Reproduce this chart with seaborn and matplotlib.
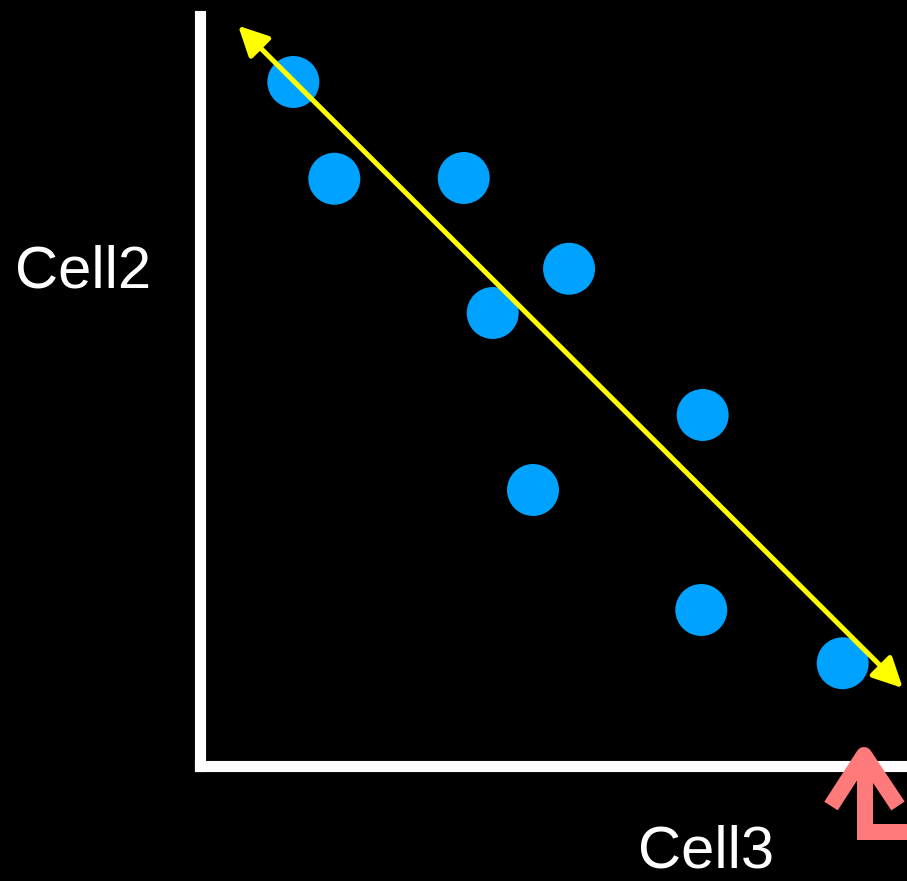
import matplotlib
matplotlib.use('Agg')
import matplotlib.pyplot as plt
import seaborn as sns
import pandas as pd
from matplotlib.lines import Line2D

# Data (arbitrary units, 0-10 on both axes)
cell3 = [1.32, 1.90, 3.73, 5.22, 4.14, 7.11, 4.71, 7.09, 9.09]
cell2 = [9.12, 7.83, 7.84, 6.63, 6.04, 4.68, 3.68, 2.08, 1.37]
trend_start = (0.54, 9.87)
trend_end = (9.94, 1.04)

df = pd.DataFrame({'Cell3': cell3, 'Cell2': cell2})

sns.set_style('dark', {'axes.facecolor': 'black', 'figure.facecolor': 'black'})
plt.rcParams['font.family'] = ['Liberation Sans', 'DejaVu Sans']

W, H = 907, 881
fig = plt.figure(figsize=(W / 100, H / 100), dpi=100)
fig.patch.set_facecolor('black')

# inner axes: the white L
left, bottom, top = 200, 766, 16
ax = fig.add_axes([left / W, (H - bottom) / H, (W - left) / W, (bottom - top) / H])
ax.set_facecolor('black')

sns.scatterplot(data=df, x='Cell3', y='Cell2', ax=ax, s=1400, color='#00A2FF',
                edgecolor='none', legend=False, zorder=2, clip_on=False)

ax.annotate('', xy=trend_end, xytext=trend_start,
            arrowprops=dict(arrowstyle='<|-|>,head_length=0.9,head_width=0.45',
                            color='#FFFF00', lw=3.6, mutation_scale=20,
                            shrinkA=0, shrinkB=0),
            annotation_clip=False, zorder=3)

ax.set_xlim(0, 10)
ax.set_ylim(0, 10)
ax.set_xticks([])
ax.set_yticks([])
ax.set_xlabel('')
ax.set_ylabel('')
ax.grid(False)
for side in ['top', 'right']:
    ax.spines[side].set_visible(False)
for side in ['left', 'bottom']:
    ax.spines[side].set_visible(True)
    ax.spines[side].set_color('white')
    ax.spines[side].set_linewidth(8)

# axis titles
fig.text(15 / W, 1 - 272 / H, 'Cell2', color='white', fontsize=43,
         ha='left', va='center')
fig.text(706 / W, 2 / H, 'Cell3', color='white', fontsize=43,
         ha='center', va='bottom')

# pink pointer arrow under the x axis end
def fp(px, py):
    return px / W, 1 - py / H

pink = '#FF7B7B'
chev = [fp(831, 806), fp(864, 755), fp(898, 806)]
shaft = [fp(865, 755), fp(865, 832), fp(915, 832)]
fig.add_artist(Line2D([p[0] for p in chev], [p[1] for p in chev],
                      transform=fig.transFigure, color=pink, lw=11.5,
                      solid_capstyle='butt', solid_joinstyle='round', zorder=5))
fig.add_artist(Line2D([p[0] for p in shaft], [p[1] for p in shaft],
                      transform=fig.transFigure, color=pink, lw=11.5,
                      solid_capstyle='butt', solid_joinstyle='miter', zorder=5))

fig.savefig('out.png', dpi=100, facecolor='black')
